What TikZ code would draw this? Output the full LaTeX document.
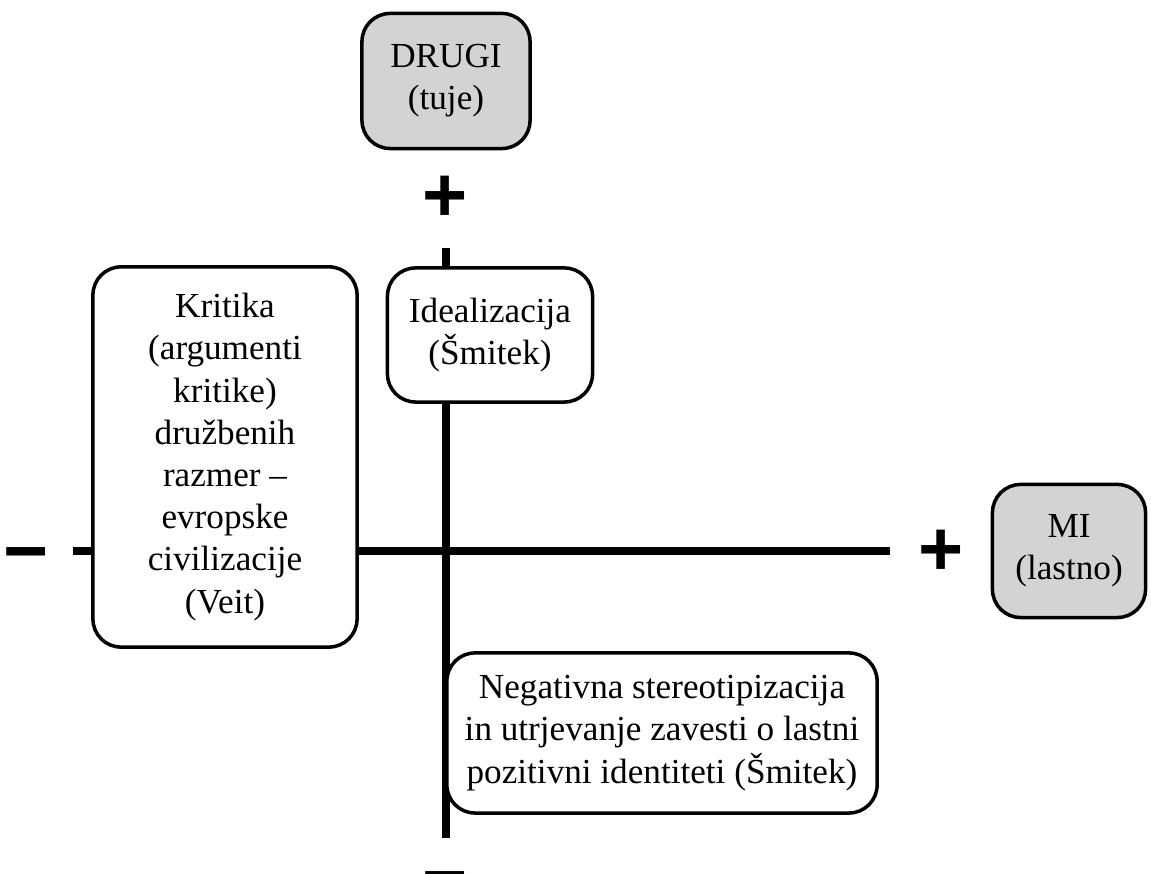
\documentclass[tikz,border=0pt]{standalone}
\usepackage{fontspec}
\setmainfont{Liberation Serif}
\newfontfamily\signfont{Liberation Sans}
\definecolor{polegray}{HTML}{D3D3D3}
\tikzset{
  box/.style={draw, line width=1pt, rounded corners=8pt, fill=white, align=center,
    inner sep=0pt, font=\fontsize{10}{12}\selectfont},
  polebox/.style={box, fill=polegray},
  axis/.style={line width=2.3pt},
  sign/.style={font=\signfont\bfseries\fontsize{22}{22}\selectfont, inner sep=0pt},
}

\begin{document}
\begin{tikzpicture}[x=0.01cm, y=-0.01cm]
\useasboundingbox (0,0) rectangle (1151,874);

% axes
\coordinate (top) at (446,248);
\coordinate (bottom) at (446,838);
\coordinate (left) at (73,551);
\coordinate (right) at (890,551);
\draw[axis] (top) -- (bottom);
\draw[axis] (left) -- (right);

% poles
\node[polebox, minimum width=1.68cm, minimum height=1.35cm] (drugi) at (446,81) {DRUGI\\(tuje)};
\node[polebox, minimum width=1.53cm, minimum height=1.33cm] (mi) at (1069,551) {MI\\(lastno)};

% quadrants
\node[box, minimum width=2.64cm, minimum height=3.80cm] (kritika) at (225,457)
  {Kritika\\(argumenti\\kritike)\\družbenih\\razmer –\\evropske\\civilizacije\\(Veit)};
\node[box, minimum width=2.05cm, minimum height=1.34cm] (ideal) at (490,335)
  {Idealizacija\\(Šmitek)};
\node[box, minimum width=4.30cm, minimum height=1.60cm] (negativna) at (662,733)
  {Negativna stereotipizacija\\in utrjevanje zavesti o lastni\\pozitivni identiteti (Šmitek)};

% signs
\node[sign] (plustop) at (445,199) {+};
\node[sign] (plusright) at (941,553) {+};
\node[sign] (minusleft) at (26,563) {−};
\node[sign] (minusbottom) at (445,887) {−};
\end{tikzpicture}
\end{document}
